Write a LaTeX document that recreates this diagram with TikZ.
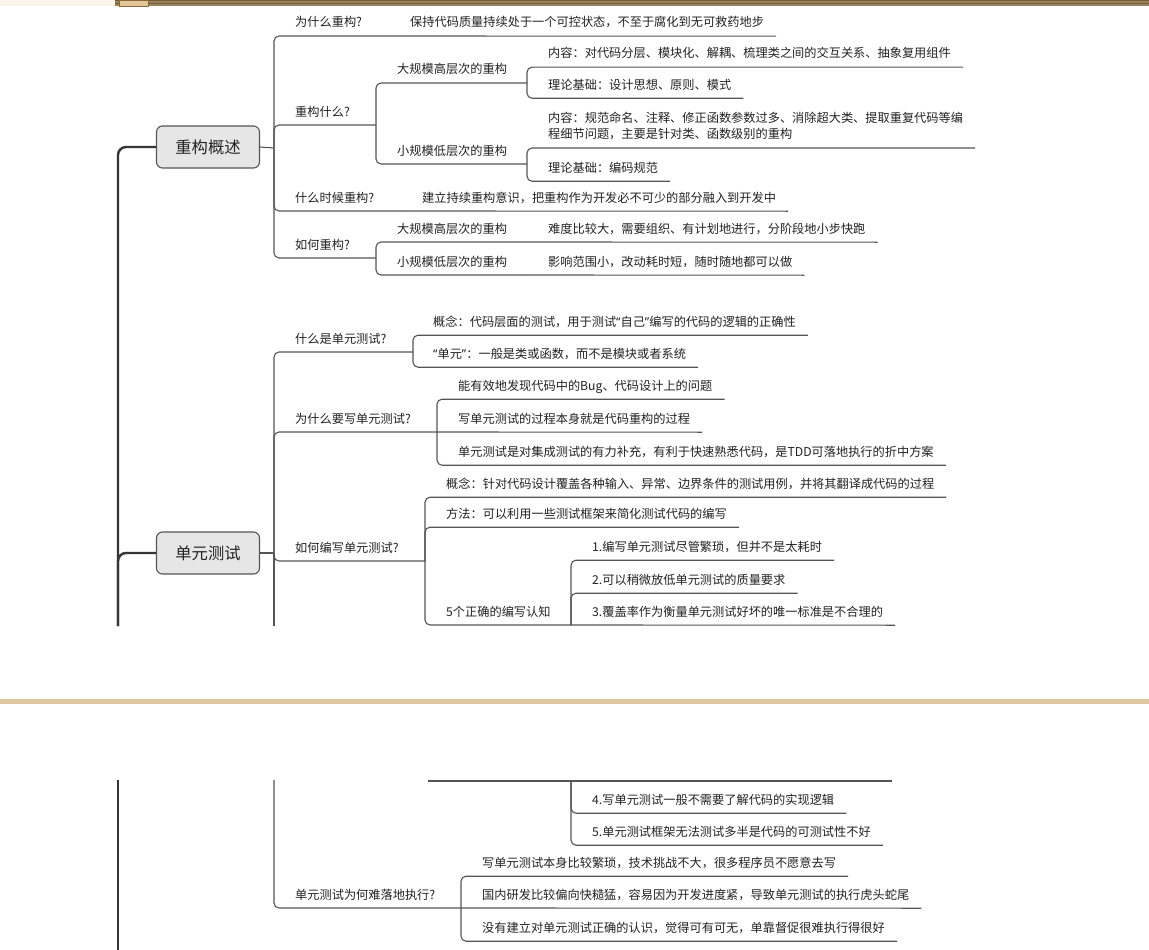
\documentclass[tikz,border=0pt]{standalone}
\usepackage{fontspec}
\setmainfont{Noto Sans CJK SC}
\newfontfamily\qfont{Noto Sans}

\definecolor{inkc}{HTML}{222222}
\definecolor{edgec}{HTML}{555555}
\definecolor{trunkc}{HTML}{353535}
\definecolor{topicfill}{HTML}{E6E6E6}
\definecolor{creamc}{HTML}{FCF5EA}
\definecolor{barc}{HTML}{7A5F3C}
\definecolor{stripec}{HTML}{98805A}
\definecolor{tabc}{HTML}{E2C898}
\definecolor{tabedge}{HTML}{8A6A3A}
\definecolor{bandc}{HTML}{DFC8A0}

\newcommand\leaffont{\fontsize{12.2}{16}\selectfont}
\newcommand\topicfont{\fontsize{16.3}{18}\selectfont}
\newcommand\cnq[1]{{\qfont “}#1{\qfont ”}}
\newcommand\lstrut{\rule[-3pt]{0pt}{3pt}}
% child below/above its junction
\newcommand\twig[2]{\draw[branch] (#1) |- ([shift={(12pt,-6pt)}]#2.south east);}
% child in line with its junction
\newcommand\stem[2]{\draw[branch] (#1) -- ([shift={(12pt,-6pt)}]#2.south east);}

\tikzset{
  topic/.style={draw=edgec, fill=topicfill, line width=1.1pt, rounded corners=6pt,
    minimum width=103pt, minimum height=42pt, inner sep=0pt, font=\topicfont, text=inkc},
  leaf/.style={anchor=west, inner sep=0pt, text height=9pt, text depth=3pt,
    font=\leaffont, text=inkc},
  leafpara/.style={anchor=south west, inner sep=0pt, align=left, font=\leaffont, text=inkc},
  branch/.style={draw=edgec, line width=1.1pt, rounded corners=5pt},
  trunk/.style={draw=trunkc, line width=2.4pt, rounded corners=8pt}
}

\begin{document}
\begin{tikzpicture}[x=1pt, y=-1pt]

  \fill[white] (0,0) rectangle (1149,950);
  \useasboundingbox (0,0) rectangle (1149,950);

  % page frame
  \fill[creamc] (0,0) rectangle (115,6);
  \fill[barc] (115,0) rectangle (1149,6);
  \foreach \sy in {1,2.5,4,5.5}
    \draw[stripec, line width=.5pt] (115,\sy) -- (1149,\sy);
  \draw[fill=tabc, draw=tabedge, line width=.6pt] (119,0) rectangle (148,6);
  \fill[bandc] (0,699) rectangle (1149,704);

  % topics
  \node[topic] (re) at (208,147) {重构概述};
  \node[topic] (ut) at (208,553) {单元测试};

  \coordinate (trunkCut) at (118,626);
  \coordinate (trunkCont) at (118,780);
  \coordinate (trunkEnd) at (118,950);

  % refactoring
  \coordinate (reJ) at (274,148);
  \node[leaf] (why) at (295,24) {为什么重构?};
  \coordinate (whyJ) at (388,36);
  \node[leaf] (whyA) at (410,24) {保持代码质量持续处于一个可控状态，不至于腐化到无可救药地步};

  \node[leaf] (what) at (295,113) {重构什么?};
  \coordinate (whatJ) at (376,125);
  \node[leaf] (whatBig) at (397,71) {大规模高层次的重构};
  \coordinate (whatBigJ) at (527,83);
  \node[leaf] (whatBigA) at (548,55) {内容：对代码分层、模块化、解耦、梳理类之间的交互关系、抽象复用组件};
  \node[leaf] (whatBigB) at (548,86) {理论基础：设计思想、原则、模式};
  \node[leaf] (whatSmall) at (397,152) {小规模低层次的重构};
  \coordinate (whatSmallJ) at (527,164);
  \node[leafpara] (whatSmallA) at (548,142) {内容：规范命名、注释、修正函数参数过多、消除超大类、提取重复代码等编\\程细节问题，主要是针对类、函数级别的重构\lstrut};
  \node[leaf] (whatSmallB) at (548,169) {理论基础：编码规范};

  \node[leaf] (when) at (295,199) {什么时候重构?};
  \coordinate (whenJ) at (401,211);
  \node[leaf] (whenA) at (422,199) {建立持续重构意识，把重构作为开发必不可少的部分融入到开发中};

  \node[leaf] (how) at (295,246) {如何重构?};
  \coordinate (howJ) at (376,258);
  \node[leaf] (howBig) at (397,230) {大规模高层次的重构};
  \coordinate (howBigJ) at (527,242);
  \node[leaf] (howBigA) at (548,230) {难度比较大，需要组织、有计划地进行，分阶段地小步快跑};
  \node[leaf] (howSmall) at (397,263) {小规模低层次的重构};
  \coordinate (howSmallJ) at (527,275);
  \node[leaf] (howSmallA) at (548,263) {影响范围小，改动耗时短，随时随地都可以做};

  \draw[trunk] (re.west) -| (trunkCut);
  \draw[branch] (re.east) -- (reJ);
  \foreach \k in {whyJ,whatJ,whenJ,howJ}
    \draw[branch] (reJ) |- (\k);
  \stem{whyJ}{whyA}
  \draw[branch] (whatJ) |- (whatBigJ);
  \draw[branch] (whatJ) |- (whatSmallJ);
  \twig{whatBigJ}{whatBigA}
  \twig{whatBigJ}{whatBigB}
  \twig{whatSmallJ}{whatSmallA}
  \twig{whatSmallJ}{whatSmallB}
  \stem{whenJ}{whenA}
  \draw[branch] (howJ) |- (howBigJ);
  \draw[branch] (howJ) |- (howSmallJ);
  \stem{howBigJ}{howBigA}
  \stem{howSmallJ}{howSmallA}

  % unit tests
  \coordinate (utJ) at (274,553);
  \coordinate (utCut) at (274,626);
  \node[leaf] (def) at (295,340) {什么是单元测试?};
  \coordinate (defJ) at (413,352);
  \node[leaf] (defA) at (433,323) {概念：代码层面的测试，用于测试\cnq{自己}编写的代码的逻辑的正确性};
  \node[leaf] (defB) at (433,355) {\cnq{单元}：一般是类或函数，而不是模块或者系统};

  \node[leaf] (whyUt) at (295,420) {为什么要写单元测试?};
  \coordinate (whyUtJ) at (437,432);
  \node[leaf] (whyUtA) at (458,387) {能有效地发现代码中的Bug、代码设计上的问题};
  \node[leaf] (whyUtB) at (458,420) {写单元测试的过程本身就是代码重构的过程};
  \node[leaf] (whyUtC) at (458,453) {单元测试是对集成测试的有力补充，有利于快速熟悉代码，是TDD可落地执行的折中方案};

  \node[leaf] (write) at (295,549) {如何编写单元测试?};
  \coordinate (writeJ) at (425,561);
  \node[leaf] (writeA) at (446,485) {概念：针对代码设计覆盖各种输入、异常、边界条件的测试用例，并将其翻译成代码的过程};
  \node[leaf] (writeB) at (446,515) {方法：可以利用一些测试框架来简化测试代码的编写};
  \node[leaf] (writeC) at (446,613) {5个正确的编写认知};
  \coordinate (writeCJ) at (571,625);
  \node[leaf] (tip1) at (592,548) {1.编写单元测试尽管繁琐，但并不是太耗时};
  \node[leaf] (tip2) at (592,581) {2.可以稍微放低单元测试的质量要求};
  \node[leaf] (tip3) at (592,613) {3.覆盖率作为衡量单元测试好坏的唯一标准是不合理的};

  \draw[trunk] (ut.west) -| (trunkCut);
  \draw[branch] (ut.east) -- (utJ);
  \foreach \k in {defJ,whyUtJ,writeJ}
    \draw[branch] (utJ) |- (\k);
  \draw[branch] (utJ) -- (utCut);
  \twig{defJ}{defA}
  \twig{defJ}{defB}
  \twig{whyUtJ}{whyUtA}
  \stem{whyUtJ}{whyUtB}
  \twig{whyUtJ}{whyUtC}
  \twig{writeJ}{writeA}
  \twig{writeJ}{writeB}
  \draw[branch] (writeJ) |- (writeCJ);
  \twig{writeCJ}{tip1}
  \twig{writeCJ}{tip2}
  \stem{writeCJ}{tip3}

  % next page
  \coordinate (utCont) at (274,780);
  \coordinate (tipCont) at (571,781);
  \coordinate (cutL) at (428,781);
  \coordinate (cutR) at (892,781);
  \node[leaf] (tip4) at (592,801) {4.写单元测试一般不需要了解代码的实现逻辑};
  \node[leaf] (tip5) at (592,833) {5.单元测试框架无法测试多半是代码的可测试性不好};

  \node[leaf] (hard) at (295,896) {单元测试为何难落地执行?};
  \coordinate (hardJ) at (461,908);
  \node[leaf] (hardA) at (482,864) {写单元测试本身比较繁琐，技术挑战不大，很多程序员不愿意去写};
  \node[leaf] (hardB) at (482,896) {国内研发比较偏向快糙猛，容易因为开发进度紧，导致单元测试的执行虎头蛇尾};
  \node[leaf] (hardC) at (482,929) {没有建立对单元测试正确的认识，觉得可有可无，单靠督促很难执行得很好};

  \draw[trunk] (trunkCont) -- (trunkEnd);
  \draw[branch] (cutL) -- (cutR);
  \twig{tipCont}{tip4}
  \twig{tipCont}{tip5}
  \draw[branch] (utCont) |- (hardJ);
  \twig{hardJ}{hardA}
  \stem{hardJ}{hardB}
  \twig{hardJ}{hardC}

\end{tikzpicture}
\end{document}
